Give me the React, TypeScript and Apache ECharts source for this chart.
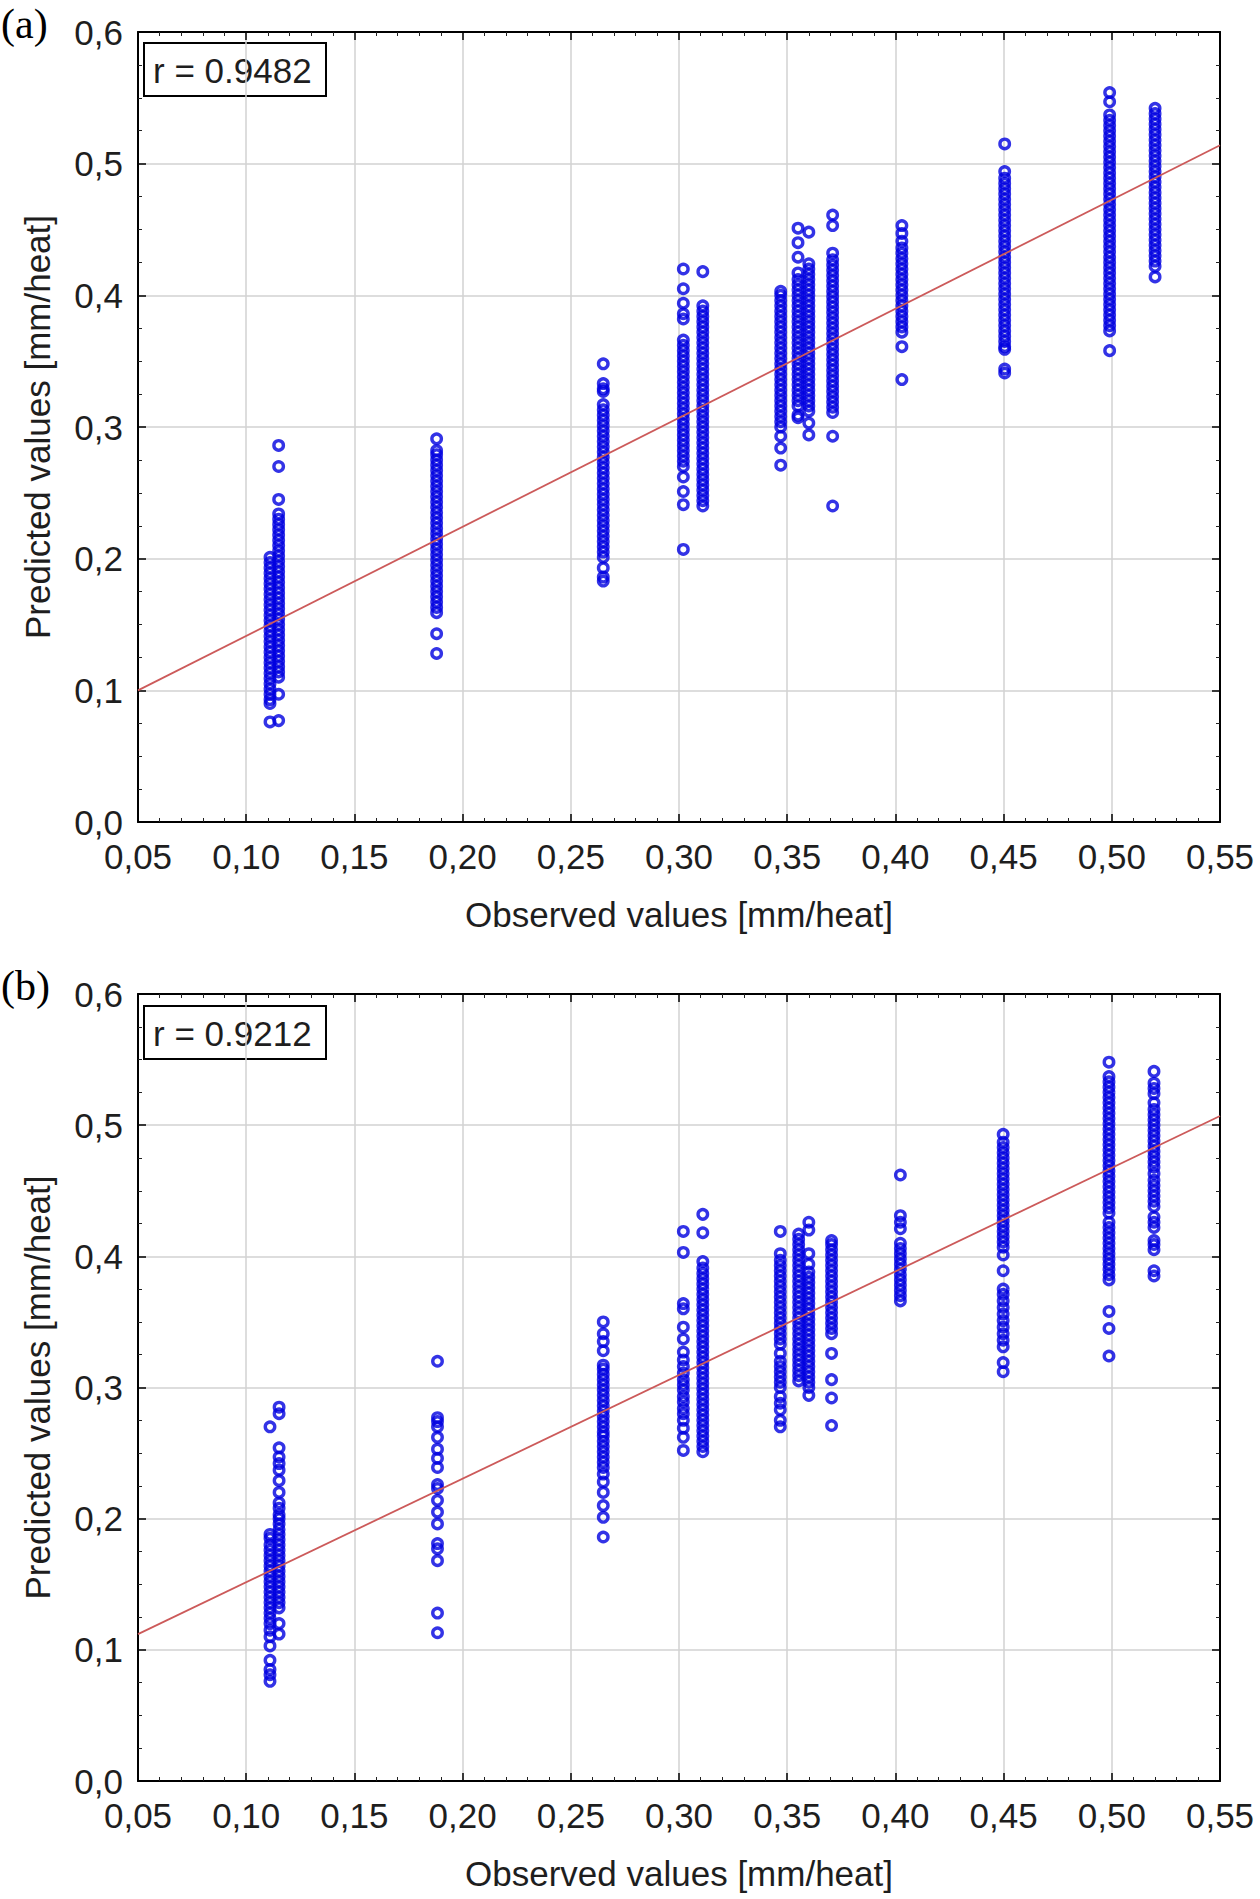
import React, { useEffect, useRef } from "react";
import * as echarts from "echarts";

// ---------- DATA ----------
const xTickValues = [0.05, 0.1, 0.15, 0.2, 0.25, 0.3, 0.35, 0.4, 0.45, 0.5, 0.55];
const yTickValues = [0, 0.1, 0.2, 0.3, 0.4, 0.5, 0.6];

const rA = "r = 0.9482";
const rB = "r = 0.9212";

// (a) observed value of each column
const obsA = [0.111, 0.115, 0.188, 0.265, 0.302, 0.311, 0.347, 0.355, 0.360, 0.371, 0.403, 0.4505, 0.499, 0.520];
// (a) predicted values per column
const a0111 = [0.076, 0.090, 0.093, 0.097, 0.101, 0.105, 0.109, 0.113, 0.117, 0.121, 0.125, 0.129, 0.133, 0.137, 0.141, 0.145, 0.149, 0.153, 0.157, 0.161, 0.165, 0.169, 0.173, 0.177, 0.181, 0.185, 0.189, 0.193, 0.197, 0.201];
const a0115 = [0.077, 0.097, 0.110, 0.114, 0.118, 0.122, 0.126, 0.130, 0.134, 0.138, 0.142, 0.146, 0.150, 0.154, 0.158, 0.162, 0.166, 0.170, 0.174, 0.178, 0.182, 0.186, 0.190, 0.194, 0.198, 0.202, 0.206, 0.210, 0.214, 0.218, 0.222, 0.226, 0.230, 0.234, 0.245, 0.270, 0.286];
const a0188 = [0.128, 0.143, 0.159, 0.163, 0.167, 0.171, 0.175, 0.179, 0.183, 0.187, 0.191, 0.195, 0.199, 0.203, 0.207, 0.211, 0.215, 0.219, 0.223, 0.227, 0.231, 0.235, 0.239, 0.243, 0.247, 0.251, 0.255, 0.259, 0.263, 0.267, 0.271, 0.275, 0.279, 0.282, 0.291];
const a0265 = [0.183, 0.186, 0.193, 0.201, 0.205, 0.209, 0.213, 0.217, 0.221, 0.225, 0.229, 0.233, 0.237, 0.241, 0.245, 0.249, 0.253, 0.257, 0.261, 0.265, 0.269, 0.273, 0.277, 0.281, 0.285, 0.289, 0.293, 0.297, 0.301, 0.305, 0.309, 0.313, 0.317, 0.327, 0.329, 0.333, 0.348];
const a0302 = [0.207, 0.241, 0.251, 0.262, 0.270, 0.274, 0.278, 0.282, 0.286, 0.290, 0.294, 0.298, 0.302, 0.306, 0.310, 0.314, 0.318, 0.322, 0.326, 0.330, 0.334, 0.338, 0.342, 0.346, 0.350, 0.354, 0.358, 0.362, 0.366, 0.382, 0.386, 0.394, 0.405, 0.420];
const a0311 = [0.240, 0.244, 0.248, 0.252, 0.256, 0.260, 0.264, 0.268, 0.272, 0.276, 0.280, 0.284, 0.288, 0.292, 0.296, 0.300, 0.304, 0.308, 0.312, 0.316, 0.320, 0.324, 0.328, 0.332, 0.336, 0.340, 0.344, 0.348, 0.352, 0.356, 0.360, 0.364, 0.368, 0.372, 0.376, 0.380, 0.384, 0.388, 0.392, 0.418];
const a0347 = [0.271, 0.284, 0.293, 0.300, 0.304, 0.308, 0.312, 0.316, 0.320, 0.324, 0.328, 0.332, 0.336, 0.340, 0.344, 0.348, 0.352, 0.356, 0.360, 0.364, 0.368, 0.372, 0.376, 0.380, 0.384, 0.388, 0.392, 0.396, 0.400, 0.403];
const a0355 = [0.307, 0.309, 0.316, 0.320, 0.324, 0.328, 0.332, 0.336, 0.340, 0.344, 0.348, 0.352, 0.356, 0.360, 0.364, 0.368, 0.372, 0.376, 0.380, 0.384, 0.388, 0.392, 0.396, 0.400, 0.404, 0.408, 0.412, 0.417, 0.429, 0.440, 0.451];
const a0360 = [0.294, 0.303, 0.312, 0.316, 0.320, 0.324, 0.328, 0.332, 0.336, 0.340, 0.344, 0.348, 0.352, 0.356, 0.360, 0.364, 0.368, 0.372, 0.376, 0.380, 0.384, 0.388, 0.392, 0.396, 0.400, 0.404, 0.408, 0.412, 0.416, 0.420, 0.424, 0.448];
const a0371 = [0.240, 0.293, 0.311, 0.315, 0.319, 0.323, 0.327, 0.331, 0.335, 0.339, 0.343, 0.347, 0.351, 0.355, 0.359, 0.363, 0.367, 0.371, 0.375, 0.379, 0.383, 0.387, 0.391, 0.395, 0.399, 0.403, 0.407, 0.411, 0.415, 0.419, 0.423, 0.427, 0.432, 0.453, 0.461];
const a0403 = [0.336, 0.361, 0.372, 0.376, 0.380, 0.384, 0.388, 0.392, 0.396, 0.400, 0.404, 0.408, 0.412, 0.416, 0.420, 0.424, 0.428, 0.432, 0.436, 0.441, 0.447, 0.453];
const a0450 = [0.341, 0.344, 0.359, 0.361, 0.365, 0.369, 0.373, 0.377, 0.381, 0.385, 0.389, 0.393, 0.397, 0.401, 0.405, 0.409, 0.413, 0.417, 0.421, 0.425, 0.429, 0.433, 0.437, 0.441, 0.445, 0.449, 0.453, 0.457, 0.461, 0.465, 0.469, 0.473, 0.477, 0.481, 0.485, 0.489, 0.494, 0.515];
const a0499 = [0.358, 0.373, 0.377, 0.381, 0.385, 0.389, 0.393, 0.397, 0.401, 0.405, 0.409, 0.413, 0.417, 0.421, 0.425, 0.429, 0.433, 0.437, 0.441, 0.445, 0.449, 0.453, 0.457, 0.461, 0.465, 0.469, 0.473, 0.477, 0.481, 0.485, 0.489, 0.493, 0.497, 0.501, 0.505, 0.509, 0.513, 0.517, 0.521, 0.525, 0.529, 0.533, 0.537, 0.547, 0.554];
const a0520 = [0.414, 0.422, 0.426, 0.430, 0.434, 0.438, 0.442, 0.446, 0.450, 0.454, 0.458, 0.462, 0.466, 0.470, 0.474, 0.478, 0.482, 0.486, 0.490, 0.494, 0.498, 0.502, 0.506, 0.510, 0.514, 0.518, 0.522, 0.526, 0.530, 0.534, 0.538, 0.542];
const predA = [a0111, a0115, a0188, a0265, a0302, a0311, a0347, a0355, a0360, a0371, a0403, a0450, a0499, a0520];
const fitA = [[0.05, 0.100], [0.55, 0.514]];

// (b) observed value of each column
const obsB = [0.111, 0.1152, 0.1884, 0.265, 0.302, 0.311, 0.3468, 0.3553, 0.360, 0.3705, 0.4023, 0.4498, 0.4987, 0.5195];
const b0111 = [0.076, 0.081, 0.085, 0.092, 0.103, 0.110, 0.115, 0.120, 0.124, 0.128, 0.132, 0.136, 0.140, 0.144, 0.148, 0.152, 0.156, 0.160, 0.164, 0.168, 0.172, 0.176, 0.180, 0.185, 0.188, 0.270];
const b0115 = [0.112, 0.120, 0.132, 0.136, 0.140, 0.144, 0.148, 0.152, 0.156, 0.160, 0.164, 0.168, 0.172, 0.176, 0.180, 0.184, 0.188, 0.192, 0.196, 0.200, 0.203, 0.208, 0.212, 0.220, 0.229, 0.237, 0.242, 0.247, 0.254, 0.280, 0.285];
const b0188 = [0.113, 0.128, 0.168, 0.177, 0.181, 0.196, 0.205, 0.214, 0.223, 0.226, 0.239, 0.246, 0.253, 0.262, 0.270, 0.274, 0.277, 0.320];
const b0265 = [0.186, 0.201, 0.210, 0.220, 0.228, 0.234, 0.239, 0.243, 0.247, 0.251, 0.255, 0.259, 0.263, 0.266, 0.270, 0.274, 0.278, 0.282, 0.286, 0.290, 0.294, 0.298, 0.302, 0.306, 0.310, 0.314, 0.317, 0.328, 0.335, 0.341, 0.350];
const b0302 = [0.252, 0.262, 0.269, 0.275, 0.280, 0.284, 0.289, 0.293, 0.298, 0.302, 0.306, 0.311, 0.316, 0.321, 0.327, 0.337, 0.346, 0.360, 0.364, 0.403, 0.419];
const b0311 = [0.251, 0.255, 0.259, 0.263, 0.267, 0.271, 0.275, 0.279, 0.283, 0.287, 0.291, 0.295, 0.299, 0.303, 0.307, 0.311, 0.315, 0.319, 0.323, 0.327, 0.331, 0.335, 0.339, 0.343, 0.347, 0.351, 0.355, 0.359, 0.363, 0.367, 0.371, 0.375, 0.379, 0.383, 0.387, 0.391, 0.396, 0.418, 0.432];
const b0347 = [0.270, 0.275, 0.283, 0.288, 0.293, 0.300, 0.304, 0.308, 0.312, 0.316, 0.320, 0.326, 0.333, 0.337, 0.341, 0.345, 0.349, 0.353, 0.357, 0.361, 0.365, 0.369, 0.373, 0.377, 0.381, 0.385, 0.389, 0.393, 0.397, 0.402, 0.419];
const b0355 = [0.305, 0.309, 0.313, 0.317, 0.321, 0.325, 0.329, 0.333, 0.337, 0.341, 0.345, 0.349, 0.353, 0.357, 0.361, 0.365, 0.369, 0.373, 0.377, 0.381, 0.385, 0.389, 0.393, 0.397, 0.401, 0.405, 0.409, 0.413, 0.417];
const b0360 = [0.294, 0.300, 0.304, 0.308, 0.312, 0.316, 0.320, 0.324, 0.328, 0.332, 0.336, 0.340, 0.344, 0.348, 0.352, 0.356, 0.360, 0.364, 0.368, 0.372, 0.376, 0.380, 0.384, 0.388, 0.394, 0.402, 0.420, 0.426];
const b0370 = [0.271, 0.292, 0.306, 0.326, 0.341, 0.345, 0.349, 0.353, 0.357, 0.361, 0.365, 0.369, 0.373, 0.377, 0.381, 0.385, 0.389, 0.393, 0.397, 0.401, 0.405, 0.409, 0.412];
const b0402 = [0.366, 0.370, 0.374, 0.378, 0.382, 0.386, 0.390, 0.394, 0.398, 0.402, 0.406, 0.410, 0.421, 0.426, 0.431, 0.462];
const b0450 = [0.312, 0.319, 0.331, 0.336, 0.341, 0.346, 0.351, 0.356, 0.361, 0.366, 0.371, 0.375, 0.389, 0.401, 0.407, 0.411, 0.415, 0.419, 0.423, 0.427, 0.431, 0.435, 0.439, 0.443, 0.447, 0.451, 0.455, 0.459, 0.463, 0.467, 0.471, 0.475, 0.479, 0.483, 0.487, 0.493];
const b0499 = [0.324, 0.345, 0.358, 0.382, 0.386, 0.390, 0.394, 0.398, 0.402, 0.406, 0.410, 0.414, 0.418, 0.422, 0.426, 0.433, 0.437, 0.441, 0.445, 0.449, 0.453, 0.457, 0.461, 0.465, 0.469, 0.473, 0.477, 0.481, 0.485, 0.489, 0.493, 0.497, 0.501, 0.505, 0.509, 0.513, 0.517, 0.521, 0.525, 0.529, 0.533, 0.537, 0.548];
const b0520 = [0.385, 0.389, 0.405, 0.409, 0.412, 0.422, 0.426, 0.430, 0.438, 0.442, 0.446, 0.450, 0.454, 0.458, 0.463, 0.468, 0.472, 0.476, 0.480, 0.484, 0.488, 0.492, 0.496, 0.500, 0.504, 0.508, 0.512, 0.517, 0.524, 0.528, 0.532, 0.541];
const predB = [b0111, b0115, b0188, b0265, b0302, b0311, b0347, b0355, b0360, b0370, b0402, b0450, b0499, b0520];
const fitB = [[0.05, 0.112], [0.55, 0.507]];

// ---------- STYLE ----------
const FONT = "'Liberation Sans', Arial, sans-serif";
const SERIF = "'Liberation Serif', 'Times New Roman', serif";
const TXT = "#1e1e1e";
const POINT = "#0000e0";

const buildPoints = (xs: number[], ys: number[][]) =>
  xs.flatMap((x, i) => ys[i].map((y) => [x, y]));

const fmtX = (v: number) => v.toFixed(2).replace(".", ",");
const fmtY = (v: number) => v.toFixed(1).replace(".", ",");

function xAxes(gridIndex: number) {
  const base = {
    type: "value",
    gridIndex,
    min: 0.05,
    max: 0.55,
    interval: 0.05,
    axisLine: { show: true, onZero: false, lineStyle: { color: "#000", width: 2 } },
    axisTick: { show: true, inside: true, length: 8, lineStyle: { color: "#000", width: 1.5 } },
    minorTick: { show: true, splitNumber: 5, length: 4, lineStyle: { color: "#222", width: 1 } },
  };
  return [
    {
      ...base,
      position: "bottom",
      name: "Observed values [mm/heat]",
      nameLocation: "middle",
      nameGap: 75,
      nameTextStyle: { fontFamily: FONT, fontSize: 35, color: TXT },
      axisLabel: { show: true, margin: 17, fontFamily: FONT, fontSize: 35, color: TXT, formatter: fmtX },
      splitLine: { show: true, lineStyle: { color: "#d2d2d2", width: 1.5 } },
    },
    {
      ...base,
      position: "top",
      axisLabel: { show: false },
      splitLine: { show: false },
    },
  ];
}

function yAxes(gridIndex: number) {
  const base = {
    type: "value",
    gridIndex,
    min: 0,
    max: 0.6,
    interval: 0.1,
    axisLine: { show: true, onZero: false, lineStyle: { color: "#000", width: 2 } },
    axisTick: { show: true, inside: true, length: 8, lineStyle: { color: "#000", width: 1.5 } },
    minorTick: { show: true, splitNumber: 4, length: 4, lineStyle: { color: "#222", width: 1 } },
  };
  return [
    {
      ...base,
      position: "left",
      name: "Predicted values [mm/heat]",
      nameLocation: "middle",
      nameGap: 83,
      nameTextStyle: { fontFamily: FONT, fontSize: 35, color: TXT },
      axisLabel: { show: true, margin: 15, fontFamily: FONT, fontSize: 35, color: TXT, formatter: fmtY },
      splitLine: { show: true, lineStyle: { color: "#d2d2d2", width: 1.5 } },
    },
    {
      ...base,
      position: "right",
      axisLabel: { show: false },
      splitLine: { show: false },
    },
  ];
}

function scatter(xAxisIndex: number, yAxisIndex: number, data: number[][]) {
  return {
    type: "scatter",
    xAxisIndex,
    yAxisIndex,
    data,
    symbol: "circle",
    symbolSize: 9.5,
    silent: true,
    z: 3,
    itemStyle: { color: "rgba(0,0,0,0)", borderColor: POINT, borderWidth: 3.4 },
  };
}

function fit(xAxisIndex: number, yAxisIndex: number, data: number[][]) {
  return {
    type: "line",
    xAxisIndex,
    yAxisIndex,
    data,
    showSymbol: false,
    silent: true,
    z: 4,
    lineStyle: { color: "#cc5a5a", width: 1.8 },
  };
}

function rBox(top: number, label: string) {
  return {
    type: "group",
    left: 143,
    top,
    z: 100,
    children: [
      {
        type: "rect",
        shape: { x: 0, y: 0, width: 182, height: 53 },
        style: { fill: "#fff", stroke: "#000", lineWidth: 2 },
      },
      {
        type: "text",
        x: 9,
        y: 27,
        style: { text: label, font: `35px ${FONT}`, fill: TXT, textVerticalAlign: "middle" },
      },
    ],
  };
}

export default function App() {
  const ref = useRef<HTMLDivElement>(null);

  useEffect(() => {
    document.body.style.margin = "0";
    if (!ref.current) return;
    const chart = echarts.init(ref.current, null, { renderer: "svg" });
    const option = {
      animation: false,
      backgroundColor: "#fff",
      grid: [
        { left: 138, top: 32, width: 1082, height: 790, containLabel: false },
        { left: 138, top: 994, width: 1082, height: 787, containLabel: false },
      ],
      xAxis: [...xAxes(0), ...xAxes(1)],
      yAxis: [...yAxes(0), ...yAxes(1)],
      series: [
        scatter(0, 0, buildPoints(obsA, predA)),
        fit(0, 0, fitA),
        scatter(2, 2, buildPoints(obsB, predB)),
        fit(2, 2, fitB),
      ],
      graphic: [
        {
          type: "text",
          left: 1,
          top: 3,
          z: 100,
          style: { text: "(a)", font: `42px ${SERIF}`, fill: "#000" },
        },
        {
          type: "text",
          left: 1,
          top: 965,
          z: 100,
          style: { text: "(b)", font: `42px ${SERIF}`, fill: "#000" },
        },
        rBox(42, rA),
        rBox(1005, rB),
      ],
    };
    chart.setOption(option as any);
    return () => chart.dispose();
  }, []);

  return <div ref={ref} style={{ width: 1260, height: 1899 }} />;
}
